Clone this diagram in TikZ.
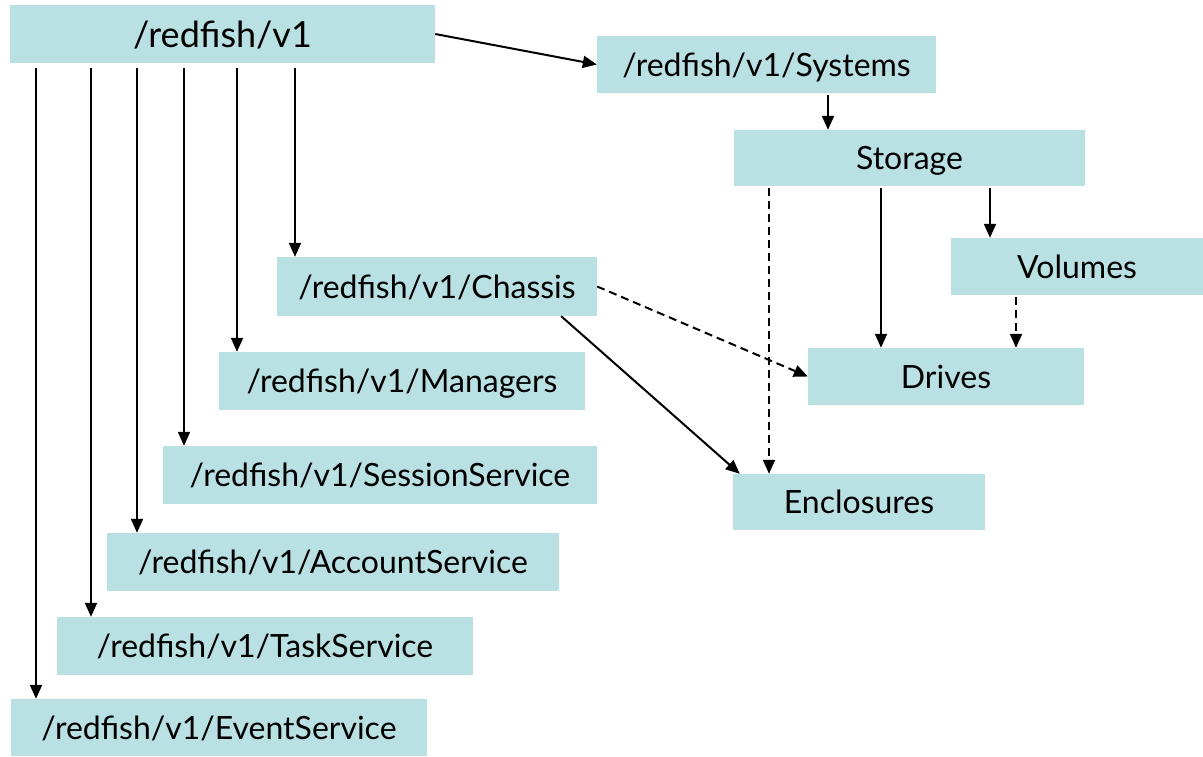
\documentclass[tikz,border=0pt]{standalone}
\usepackage{fontspec}
\setmainfont{Lato}
\usetikzlibrary{arrows.meta}
\definecolor{boxfill}{RGB}{185,224,227}
\tikzset{
  res/.style={rectangle, fill=boxfill, inner sep=0pt, text depth=0pt, font=\fontsize{32}{36}\selectfont},
  arr/.style={line width=2pt, -{Triangle[length=14pt,width=12pt]}},
  darr/.style={arr, dash pattern=on 8pt off 5pt},
}
\newcommand{\bx}[6]{% name, x1, y1, x2, y2, text
  \node[res, minimum width={#4-#2}, minimum height={#5-#3}] (#1) at ({(#2+#4)/2},{(#3+#5)/2}) {#6};}
\begin{document}
\begin{tikzpicture}[x=1pt,y=-1pt]
\useasboundingbox (0,0) rectangle (1203,756);
% resource boxes
\node[res, minimum width=425pt, minimum height=58pt, font=\fontsize{36}{40}\selectfont] (root) at (222.5,34) {/redfish/v1};
\bx{sys}{597}{36}{936}{93}{/redfish/v1/Systems}
\bx{sto}{734}{130}{1085}{186}{Storage}
\bx{vol}{951}{238}{1203}{295}{Volumes}
\bx{ch}{277}{257}{597}{316}{/redfish/v1/Chassis}
\bx{drv}{808}{348}{1084}{405}{Drives}
\bx{mgr}{219}{352}{585}{410}{/redfish/v1/Managers}
\bx{ses}{163}{446}{597}{504}{/redfish/v1/SessionService}
\bx{enc}{733}{474}{985}{530}{Enclosures}
\bx{acc}{107}{533}{559}{591}{/redfish/v1/AccountService}
\bx{task}{57}{617}{473}{675}{/redfish/v1/TaskService}
\bx{ev}{11}{699}{427}{756}{/redfish/v1/EventService}
% links from the service root
\draw[arr, shorten <=5pt] (root.south -| 36,0) -- (ev.north -| 36,0);
\draw[arr, shorten <=5pt] (root.south -| 91,0) -- (task.north -| 91,0);
\draw[arr, shorten <=5pt] (root.south -| 137,0) -- (acc.north -| 137,0);
\draw[arr, shorten <=5pt] (root.south -| 184,0) -- (ses.north -| 184,0);
\draw[arr, shorten <=5pt] (root.south -| 237,0) -- (mgr.north -| 237,0);
\draw[arr, shorten <=5pt] (root.south -| 295,0) -- (ch.north -| 295,0);
\draw[arr] (root.east) -- (sys.west);
% systems and storage
\draw[arr, shorten <=2pt] (sys.south -| 828,0) -- (sto.north -| 828,0);
\draw[arr, shorten <=2pt] (sto.south -| 990,0) -- (vol.north -| 990,0);
\draw[arr, shorten <=2pt] (sto.south -| 881,0) -- (drv.north -| 881,0);
\draw[darr, shorten <=2pt] (sto.south -| 769,0) -- (enc.north -| 769,0);
\draw[darr, shorten <=2pt] (vol.south -| 1016,0) -- (drv.north -| 1016,0);
% chassis links
\draw[darr] (ch.east) -- (drv.west);
\draw[arr] ([xshift=-36pt]ch.south east) -- ([xshift=7pt]enc.north west);
\end{tikzpicture}
\end{document}
